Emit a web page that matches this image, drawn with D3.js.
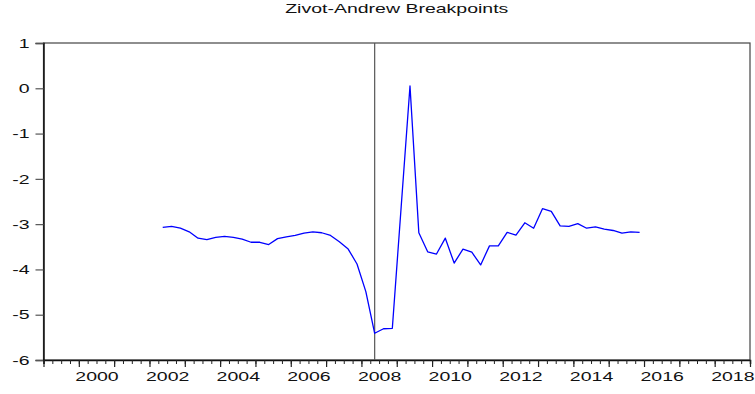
<!DOCTYPE html>
<html>
<head>
<meta charset="utf-8">
<script src="https://cdn.jsdelivr.net/npm/d3@7/dist/d3.min.js"></script>
<style>
  html, body { margin: 0; padding: 0; background: #fff; }
  svg { display: block; font-family: Arial, "Liberation Sans", sans-serif; }
</style>
</head>
<body>
<svg id="chart" width="755" height="394"></svg>
<script>
// Quarterly Zivot-Andrews test statistic by candidate break date
const quarters = [
  "2002Q2","2002Q3","2002Q4",
  "2003Q1","2003Q2","2003Q3","2003Q4",
  "2004Q1","2004Q2","2004Q3","2004Q4",
  "2005Q1","2005Q2","2005Q3","2005Q4",
  "2006Q1","2006Q2","2006Q3","2006Q4",
  "2007Q1","2007Q2","2007Q3","2007Q4",
  "2008Q1","2008Q2","2008Q3","2008Q4",
  "2009Q1","2009Q2","2009Q3","2009Q4",
  "2010Q1","2010Q2","2010Q3","2010Q4",
  "2011Q1","2011Q2","2011Q3","2011Q4",
  "2012Q1","2012Q2","2012Q3","2012Q4",
  "2013Q1","2013Q2","2013Q3","2013Q4",
  "2014Q1","2014Q2","2014Q3","2014Q4",
  "2015Q1","2015Q2","2015Q3","2015Q4"
];
const stats = [
  -3.07, -3.05, -3.09,
  -3.17, -3.31, -3.34, -3.29,
  -3.27, -3.29, -3.33, -3.40,
  -3.40, -3.45, -3.32, -3.28,
  -3.25, -3.20, -3.17, -3.19,
  -3.25, -3.39, -3.55, -3.88,
  -4.49, -5.41, -5.31, -5.30,
  -2.62, 0.05, -3.19, -3.61,
  -3.66, -3.31, -3.86, -3.55,
  -3.62, -3.90, -3.48, -3.48,
  -3.18, -3.24, -2.97, -3.09,
  -2.66, -2.72, -3.04, -3.05,
  -2.99, -3.09, -3.06, -3.11,
  -3.14, -3.20, -3.17, -3.18
];
const breakQuarter = "2008Q2";
const yTicks = [1, 0, -1, -2, -3, -4, -5, -6];
const yearLabels = [2000, 2002, 2004, 2006, 2008, 2010, 2012, 2014, 2016, 2018];
const title = "Zivot-Andrew Breakpoints";

// quarter string -> fractional year at the middle of the quarter
const toTime = q => +q.slice(0, 4) + (+q.slice(5) - 1) / 4 + 0.125;

const svg = d3.select("#chart");
const plotLeft = 43.5, plotRight = 750, plotTop = 43, plotBottom = 360;
const stretch = 1.5; // wide text rendering

const x = d3.scaleLinear().domain([1999, 2019]).range([plotLeft, plotRight]);
const y = d3.scaleLinear().domain([-6, 1]).range([plotBottom, plotTop]);

// Frame
svg.append("rect")
  .attr("x", plotLeft).attr("y", plotTop)
  .attr("width", plotRight - plotLeft).attr("height", plotBottom - plotTop)
  .attr("fill", "none").attr("stroke", "#444").attr("stroke-width", 1.2);

// Left axis (plain hyphen for negatives)
const yAxis = svg.append("g")
  .attr("transform", `translate(${plotLeft},0)`)
  .call(d3.axisLeft(y).tickValues(yTicks).tickFormat(d => String(d)).tickSize(8).tickPadding(6));
yAxis.select(".domain").attr("stroke", "#111").attr("stroke-width", 1.5);
yAxis.selectAll(".tick line").attr("stroke", "#555").attr("stroke-width", 1.2);
yAxis.selectAll(".tick text")
  .attr("font-size", 13).attr("fill", "#111")
  .attr("font-family", "Arial, 'Liberation Sans', sans-serif")
  .attr("x", -14 / stretch)
  .attr("transform", `scale(${stretch},1)`);

// Bottom axis: quarter minor ticks, year major ticks
const minorTicks = d3.range(1999, 2019.001, 0.25);
const majorTicks = d3.range(1999, 2020, 1);
const xMinor = svg.append("g")
  .attr("transform", `translate(0,${plotBottom})`)
  .call(d3.axisBottom(x).tickValues(minorTicks).tickFormat("").tickSize(4));
xMinor.select(".domain").attr("stroke", "#111").attr("stroke-width", 1.5);
xMinor.selectAll(".tick line").attr("stroke", "#222").attr("stroke-width", 1);

const xMajor = svg.append("g")
  .attr("transform", `translate(0,${plotBottom})`)
  .call(d3.axisBottom(x).tickValues(majorTicks).tickFormat("").tickSize(7));
xMajor.select(".domain").remove();
xMajor.selectAll(".tick line").attr("stroke", "#222").attr("stroke-width", 1.2);

// Year labels centred over each labelled year
const xLabels = svg.append("g")
  .attr("transform", `translate(0,${plotBottom})`)
  .call(d3.axisBottom(x).tickValues(yearLabels.map(v => v + 0.5))
    .tickFormat(d => String(Math.floor(d))).tickSize(0).tickPadding(12));
xLabels.select(".domain").remove();
xLabels.selectAll(".tick text")
  .attr("font-size", 13).attr("fill", "#111")
  .attr("font-family", "Arial, 'Liberation Sans', sans-serif")
  .attr("transform", `scale(${stretch},1)`);

// Break date marker
svg.append("line")
  .attr("x1", x(toTime(breakQuarter))).attr("x2", x(toTime(breakQuarter)))
  .attr("y1", plotTop).attr("y2", plotBottom)
  .attr("stroke", "#555").attr("stroke-width", 1.2);

// Statistic series
const series = quarters.map((q, i) => ({ t: toTime(q), v: stats[i] }));
svg.append("path")
  .datum(series)
  .attr("fill", "none")
  .attr("stroke", "#0000ff")
  .attr("stroke-width", 1.3)
  .attr("stroke-linejoin", "round")
  .attr("d", d3.line().x(d => x(d.t)).y(d => y(d.v)));

// Title
svg.append("text")
  .attr("transform", `translate(${(plotLeft + plotRight) / 2},13.3) scale(${stretch},1)`)
  .attr("text-anchor", "middle")
  .attr("font-size", 13).attr("fill", "#111")
  .text(title);
</script>
</body>
</html>
